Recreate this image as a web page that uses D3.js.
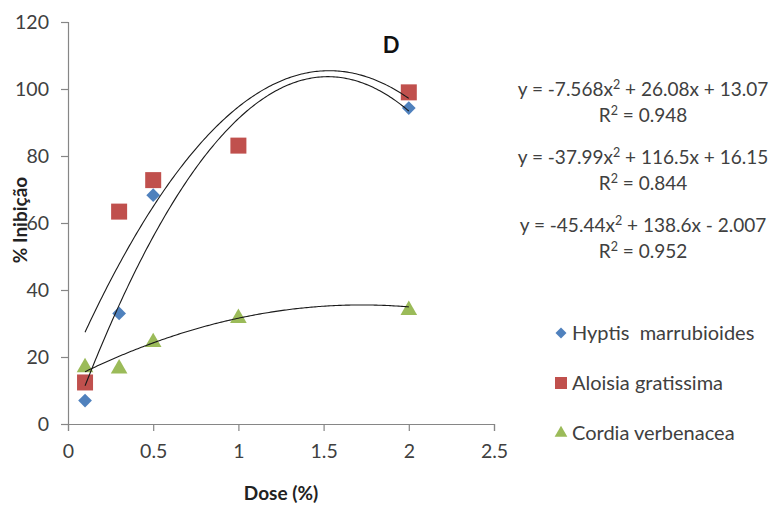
<!DOCTYPE html>
<html><head><meta charset="utf-8">
<script src="https://cdn.jsdelivr.net/npm/d3@7"></script>
<style>
html,body{margin:0;padding:0;background:#fff;}
text{font-family:"Lato","Open Sans",sans-serif;}
</style></head>
<body><svg id="c" width="773" height="508"></svg>
<script>
const doses = [0.1, 0.3, 0.5, 1, 2];
const hyptisX = [0.1, 0.3, 0.5, 2];
const hyptisY = [7, 33, 68.3, 94.3];
const aloisiaY = [12.4, 63.4, 72.8, 83.1, 99];
const cordiaY = [16.9, 16.5, 24.4, 31.6, 34];
const seriesNames = ["Hyptis  marrubioides", "Aloisia gratissima", "Cordia verbenacea"];
const colors = ["#4F81BD", "#C0504D", "#9BBB59"];
// trendline coefficients [a, b, c] : y = a x^2 + b x + c
const fitCordia = [-7.568, 26.08, 13.07];
const fitAloisia = [-37.99, 116.5, 16.15];
const fitHyptis = [-45.44, 138.6, -2.007];
const eqLines = [
  ["y = -7.568x", "2", " + 26.08x + 13.07"], ["R", "2", " = 0.948"],
  ["y = -37.99x", "2", " + 116.5x + 16.15"], ["R", "2", " = 0.844"],
  ["y = -45.44x", "2", " + 138.6x - 2.007"], ["R", "2", " = 0.952"]
];
const xTicks = [0, 0.5, 1, 1.5, 2, 2.5];
const yTicks = [0, 20, 40, 60, 80, 100, 120];

const svg = d3.select("#c");
const x = d3.scaleLinear().domain([0, 2.5]).range([68, 494]);
const y = d3.scaleLinear().domain([0, 120]).range([424, 22]);

const axisColor = "#868686", textColor = "#404040";

const xAxis = svg.append("g").attr("transform", "translate(0,424)")
  .call(d3.axisBottom(x).tickValues(xTicks).tickSize(7).tickPadding(13).tickFormat(d3.format("")));
const yAxis = svg.append("g").attr("transform", "translate(68,0)")
  .call(d3.axisLeft(y).tickValues(yTicks).tickSize(7).tickPadding(12));
[xAxis, yAxis].forEach(g => {
  g.select(".domain").attr("stroke", axisColor).attr("stroke-width", 1.2);
  g.selectAll(".tick line").attr("stroke", axisColor).attr("stroke-width", 1.2);
  g.selectAll(".tick text").attr("fill", textColor).style("font-size", "19.5px").style("font-family", "Lato, 'Open Sans', sans-serif");
});

// points
const sym = d3.symbol();
svg.append("g").selectAll("path").data(hyptisX.map((d, i) => [d, hyptisY[i]])).join("path")
  .attr("d", sym.type(d3.symbolDiamond2).size(120)()).attr("fill", colors[0])
  .attr("transform", d => `translate(${x(d[0])},${y(d[1])})`);
svg.append("g").selectAll("rect").data(doses.map((d, i) => [d, aloisiaY[i]])).join("rect")
  .attr("x", d => x(d[0]) - 8).attr("y", d => y(d[1]) - 8).attr("width", 16).attr("height", 16)
  .attr("fill", colors[1]);
svg.append("g").selectAll("path").data(doses.map((d, i) => [d, cordiaY[i]])).join("path")
  .attr("d", d3.symbol().type(d3.symbolTriangle).size(120)()).attr("fill", colors[2])
  .attr("transform", d => `translate(${x(d[0])},${y(d[1])})`);

// trend lines
const line = d3.line().x(d => x(d[0])).y(d => y(d[1])).curve(d3.curveLinear);
[fitCordia, fitAloisia, fitHyptis].forEach(f => {
  const pts = d3.range(0.1, 2.0001, 0.01).map(t => [t, f[0] * t * t + f[1] * t + f[2]]);
  svg.append("path").attr("d", line(pts)).attr("fill", "none").attr("stroke", "#1a1a1a").attr("stroke-width", 1.1);
});

// title D
svg.append("text").attr("x", 391).attr("y", 53).attr("text-anchor", "middle")
  .style("font-size", "22px").style("font-weight", "bold").attr("fill", "#111").text("D");

// axis titles
svg.append("text").attr("x", 281).attr("y", 500).attr("text-anchor", "middle")
  .style("font-size", "19px").style("font-weight", "bold").attr("fill", "#222").text("Dose (%)");
svg.append("text").attr("transform", "translate(27,220) rotate(-90)").attr("text-anchor", "middle")
  .style("font-size", "19px").style("font-weight", "bold").attr("fill", "#222").text("% Inibição");

// equations
const eqY = [96, 122, 164, 190, 232, 258];
eqLines.forEach((parts, i) => {
  const t = svg.append("text").attr("x", 643).attr("y", eqY[i]).attr("text-anchor", "middle")
    .style("font-size", "19px").attr("fill", textColor);
  t.append("tspan").text(parts[0]);
  t.append("tspan").attr("dy", -7).style("font-size", "12.5px").text(parts[1]);
  t.append("tspan").attr("dy", 7).text(parts[2]);
});

// legend
const legY = [333, 383, 433];
const lg = svg.append("g");
lg.append("path").attr("d", d3.symbol().type(d3.symbolSquare).size(60)())
  .attr("transform", `translate(561,${legY[0]}) rotate(45)`).attr("fill", colors[0]);
lg.append("rect").attr("x", 555).attr("y", legY[1] - 6).attr("width", 12).attr("height", 12).attr("fill", colors[1]);
lg.append("path").attr("d", d3.symbol().type(d3.symbolTriangle).size(70)())
  .attr("transform", `translate(561,${legY[2]})`).attr("fill", colors[2]);
seriesNames.forEach((n, i) => {
  lg.append("text").attr("x", 572).attr("y", legY[i] + 7).style("font-size", "20px")
    .attr("fill", textColor).attr("xml:space", "preserve").style("white-space", "pre").text(n);
});
</script></body></html>
